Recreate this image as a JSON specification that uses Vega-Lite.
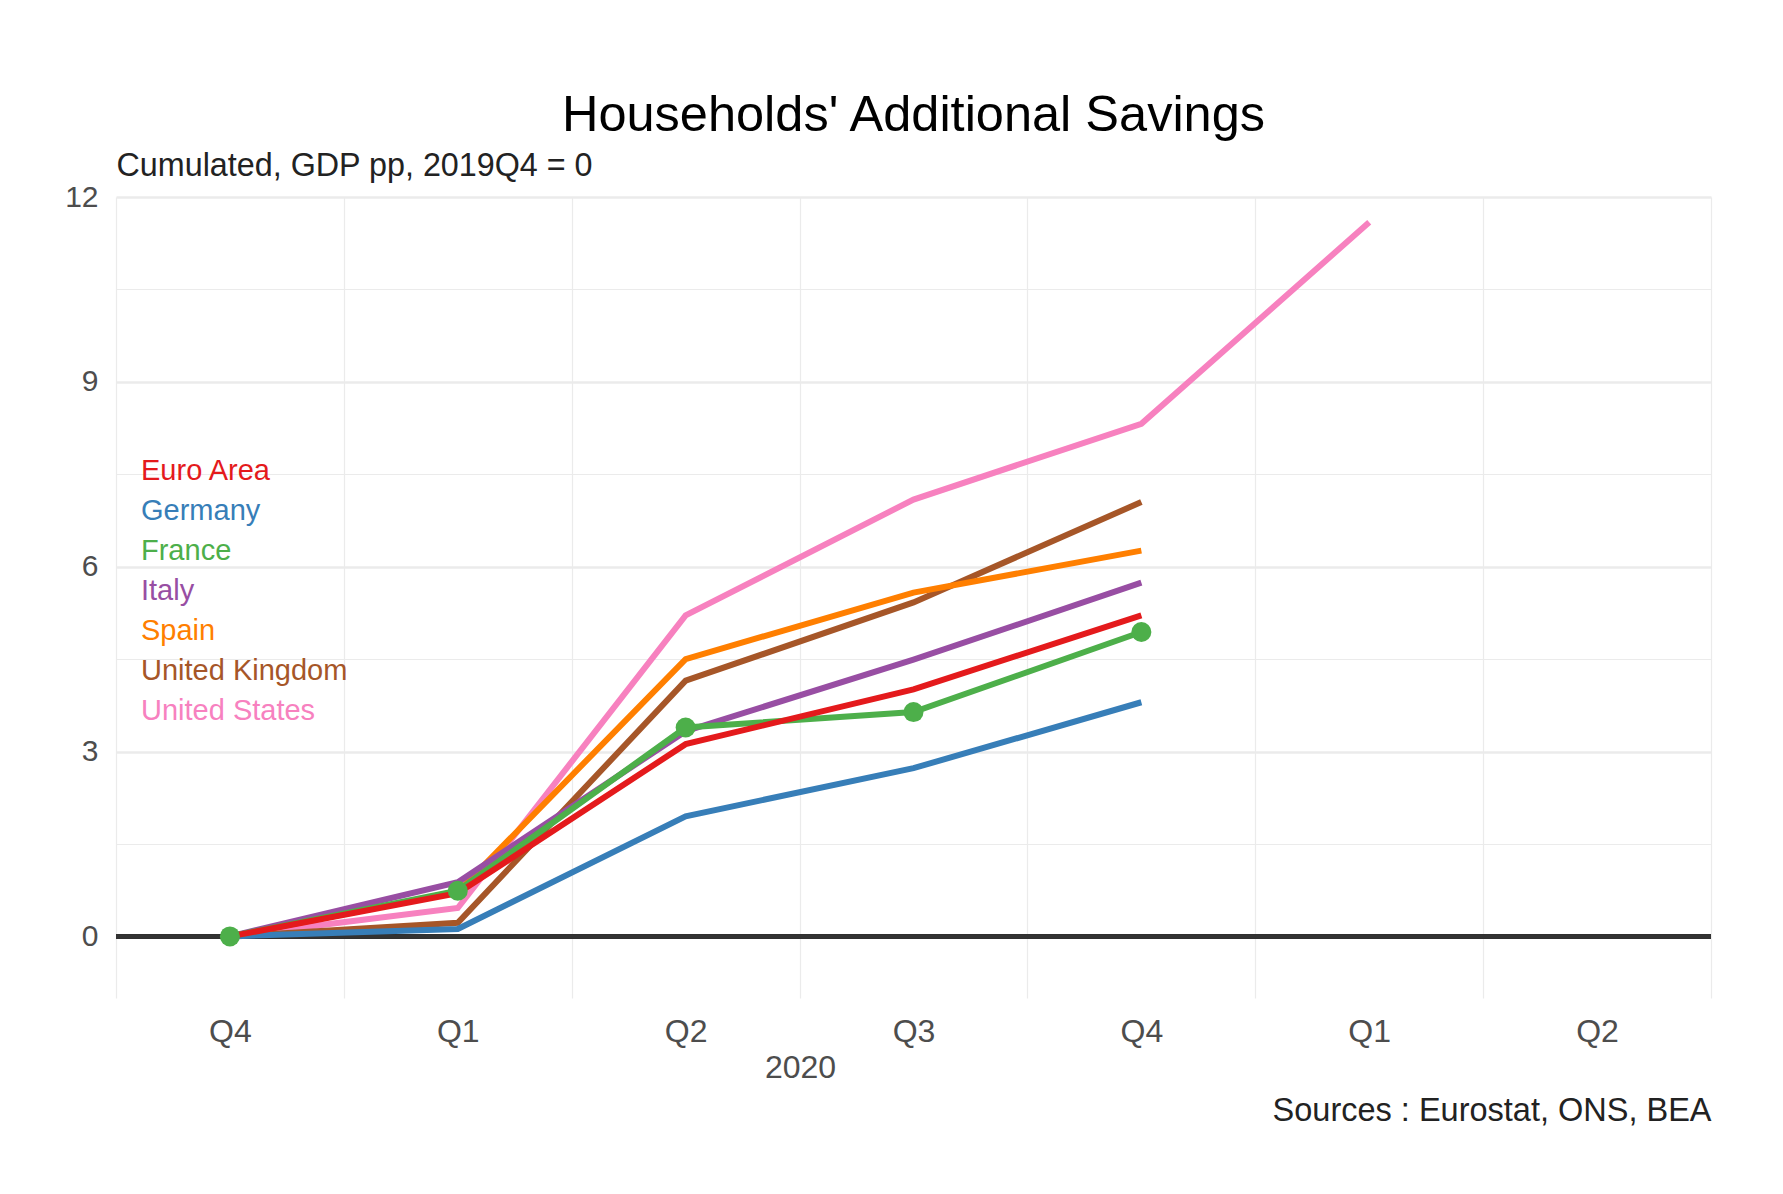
{
  "$schema": "https://vega.github.io/schema/vega-lite/v6.json",
  "width": 1595,
  "height": 801,
  "autosize": {"type": "none"},
  "padding": {"left": 116, "top": 197, "right": 72, "bottom": 196},
  "background": "white",
  "config": {
    "view": {"stroke": null},
    "font": "Liberation Sans"
  },
  "title": {
    "text": "Households' Additional Savings",
    "font": "Liberation Sans",
    "fontSize": 50.5,
    "fontWeight": "normal",
    "color": "#000000",
    "anchor": "middle",
    "frame": "group",
    "offset": 8
  },
  "data": {
    "values": [
      {"country": "United States", "quarter": "2019Q4", "value": 0},
      {"country": "United States", "quarter": "2020Q1", "value": 0.46},
      {"country": "United States", "quarter": "2020Q2", "value": 5.21},
      {"country": "United States", "quarter": "2020Q3", "value": 7.09},
      {"country": "United States", "quarter": "2020Q4", "value": 8.32},
      {"country": "United States", "quarter": "2021Q1", "value": 11.59},
      {"country": "United Kingdom", "quarter": "2019Q4", "value": 0},
      {"country": "United Kingdom", "quarter": "2020Q1", "value": 0.22},
      {"country": "United Kingdom", "quarter": "2020Q2", "value": 4.15},
      {"country": "United Kingdom", "quarter": "2020Q3", "value": 5.42},
      {"country": "United Kingdom", "quarter": "2020Q4", "value": 7.05},
      {"country": "Spain", "quarter": "2019Q4", "value": 0},
      {"country": "Spain", "quarter": "2020Q1", "value": 0.72},
      {"country": "Spain", "quarter": "2020Q2", "value": 4.5},
      {"country": "Spain", "quarter": "2020Q3", "value": 5.58},
      {"country": "Spain", "quarter": "2020Q4", "value": 6.26},
      {"country": "Italy", "quarter": "2019Q4", "value": 0},
      {"country": "Italy", "quarter": "2020Q1", "value": 0.88},
      {"country": "Italy", "quarter": "2020Q2", "value": 3.33},
      {"country": "Italy", "quarter": "2020Q3", "value": 4.49},
      {"country": "Italy", "quarter": "2020Q4", "value": 5.74},
      {"country": "Germany", "quarter": "2019Q4", "value": 0},
      {"country": "Germany", "quarter": "2020Q1", "value": 0.12},
      {"country": "Germany", "quarter": "2020Q2", "value": 1.95},
      {"country": "Germany", "quarter": "2020Q3", "value": 2.73},
      {"country": "Germany", "quarter": "2020Q4", "value": 3.8},
      {"country": "France", "quarter": "2019Q4", "value": 0},
      {"country": "France", "quarter": "2020Q1", "value": 0.74},
      {"country": "France", "quarter": "2020Q2", "value": 3.39},
      {"country": "France", "quarter": "2020Q3", "value": 3.64},
      {"country": "France", "quarter": "2020Q4", "value": 4.94},
      {"country": "Euro Area", "quarter": "2019Q4", "value": 0},
      {"country": "Euro Area", "quarter": "2020Q1", "value": 0.7},
      {"country": "Euro Area", "quarter": "2020Q2", "value": 3.12},
      {"country": "Euro Area", "quarter": "2020Q3", "value": 4.01},
      {"country": "Euro Area", "quarter": "2020Q4", "value": 5.21}
    ]
  },
  "layer": [
    {
      "mark": {"type": "rule", "color": "#333333", "strokeWidth": 3.5},
      "encoding": {"y": {"datum": 0, "type": "quantitative"}}
    },
    {
      "mark": {"type": "line", "strokeWidth": 6},
      "encoding": {
        "x": {
          "field": "quarter",
          "type": "ordinal",
          "sort": null,
          "scale": {
            "type": "band",
            "domain": ["2019Q4", "2020Q1", "2020Q2", "2020Q3", "2020Q4", "2021Q1", "2021Q2"],
            "paddingInner": 0,
            "paddingOuter": 0
          },
          "axis": {
            "orient": "bottom",
            "title": "2020",
            "titleX": 684,
            "titleY": 79,
            "titleAlign": "center",
            "titleBaseline": "alphabetic",
            "titleFontSize": 32,
            "titleFontWeight": "normal",
            "titleColor": "#4D4D4D",
            "labelExpr": "substring(datum.label, 4)",
            "labelAngle": 0,
            "labelFontSize": 32,
            "labelColor": "#4D4D4D",
            "labelBaseline": "alphabetic",
            "labelPadding": 43,
            "ticks": false,
            "tickSize": 0,
            "domain": false,
            "grid": true,
            "gridColor": "#EBEBEB",
            "gridWidth": 1.2,
            "tickBand": "extent"
          }
        },
        "y": {
          "field": "value",
          "type": "quantitative",
          "scale": {"domain": [-1, 12], "nice": false, "zero": false},
          "axis": {
            "values": [0, 1.5, 3, 4.5, 6, 7.5, 9, 10.5, 12],
            "format": "d",
            "labelExpr": "datum.value % 3 === 0 ? datum.label : ''",
            "labelFontSize": 30,
            "labelColor": "#4D4D4D",
            "labelPadding": 18,
            "labelOverlap": false,
            "ticks": false,
            "tickSize": 0,
            "domain": false,
            "grid": true,
            "gridColor": "#EBEBEB",
            "gridWidth": {"condition": {"test": "datum.value % 3 === 0", "value": 2.4}, "value": 1.2},
            "title": "Cumulated, GDP pp, 2019Q4 = 0",
            "titleAngle": 0,
            "titleX": 0,
            "titleY": -22,
            "titleAlign": "left",
            "titleBaseline": "alphabetic",
            "titleFontSize": 32.3,
            "titleFontWeight": "normal",
            "titleColor": "#222222"
          }
        },
        "color": {
          "field": "country",
          "type": "nominal",
          "scale": {
            "domain": ["Euro Area", "Germany", "France", "Italy", "Spain", "United Kingdom", "United States"],
            "range": ["#E41A1C", "#377EB8", "#4DAF4A", "#984EA3", "#FF7F00", "#A65628", "#F781BF"]
          },
          "legend": {
            "orient": "none",
            "legendX": -4,
            "legendY": 259,
            "title": null,
            "padding": 0,
            "symbolSize": 0,
            "symbolStrokeWidth": 0,
            "symbolOpacity": 0,
            "labelOffset": 0,
            "labelFontSize": 29,
            "labelLimit": 600,
            "rowPadding": 10,
            "encode": {
              "labels": {"update": {"fill": {"scale": "color", "field": "value"}}}
            }
          }
        }
      }
    },
    {
      "transform": [{"filter": "datum.country === 'France'"}],
      "mark": {"type": "point", "filled": true, "opacity": 1, "size": 400, "color": "#4DAF4A"},
      "encoding": {
        "x": {
          "field": "quarter",
          "type": "ordinal",
          "sort": null,
          "axis": {
            "orient": "top",
            "labels": false,
            "ticks": false,
            "domain": false,
            "grid": false,
            "title": "Sources : Eurostat, ONS, BEA",
            "titleX": 1595,
            "titleY": 923,
            "titleAlign": "right",
            "titleBaseline": "alphabetic",
            "titleFontSize": 32.5,
            "titleFontWeight": "normal",
            "titleColor": "#222222"
          }
        },
        "y": {"field": "value", "type": "quantitative"}
      }
    }
  ],
  "resolve": {"axis": {"x": "independent"}}
}
